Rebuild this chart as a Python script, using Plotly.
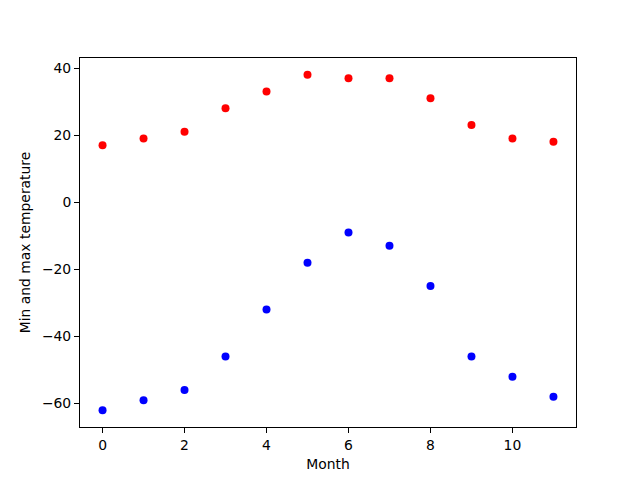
import plotly.graph_objects as go

months = list(range(12))
temp_max = [17, 19, 21, 28, 33, 38, 37, 37, 31, 23, 19, 18]
temp_min = [-62, -59, -56, -46, -32, -18, -9, -13, -25, -46, -52, -58]

fig = go.Figure()
fig.add_trace(go.Scatter(x=months, y=temp_max, mode="markers",
                         marker=dict(color="red", size=8)))
fig.add_trace(go.Scatter(x=months, y=temp_min, mode="markers",
                         marker=dict(color="blue", size=8)))

axis_style = dict(showgrid=False, zeroline=False, showline=True, linecolor="black",
                  linewidth=1, mirror=True, ticks="outside", ticklen=5,
                  tickcolor="black", tickfont=dict(size=13.9, color="black"))

fig.update_xaxes(range=[-0.55, 11.55], tickvals=[0, 2, 4, 6, 8, 10],
                 title=dict(text="Month", font=dict(size=13.9, color="black"), standoff=7),
                 **axis_style)
fig.update_yaxes(range=[-67, 43], tickvals=[-60, -40, -20, 0, 20, 40],
                 title=dict(text="Min and max temperature", font=dict(size=13.9, color="black"),
                            standoff=8),
                 **axis_style)

# page body has an 8px margin, so shift the plot area up/left to match
fig.update_layout(width=640, height=480, showlegend=False,
                  plot_bgcolor="white", paper_bgcolor="white",
                  font=dict(family="DejaVu Sans"),
                  margin=dict(l=72, r=72, t=50, b=61))

fig.write_html("out.html")
